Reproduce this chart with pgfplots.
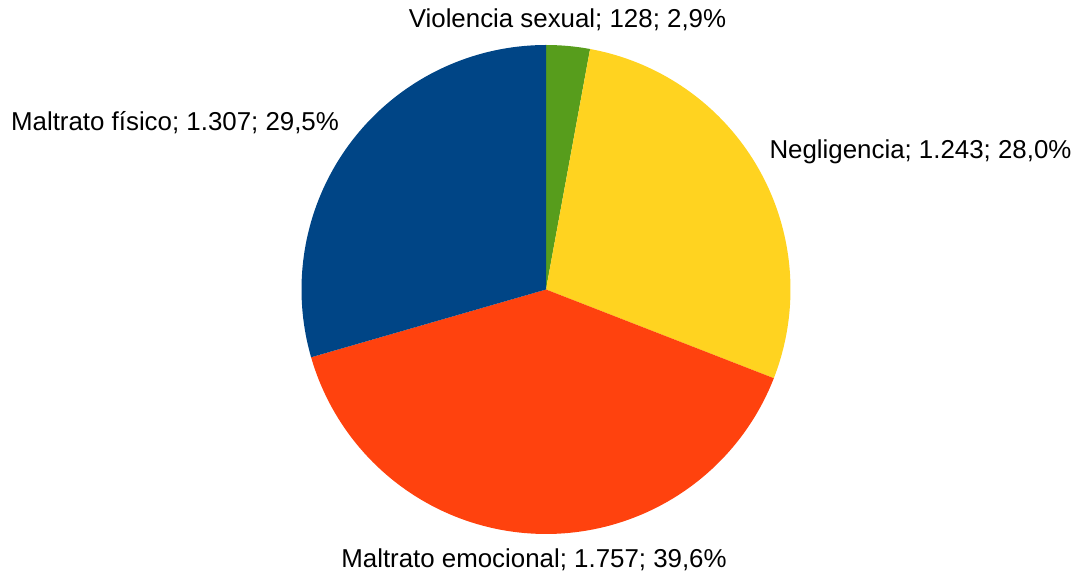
\documentclass[border=0pt]{standalone}
\usepackage{pgfplots}
\pgfplotsset{compat=1.18}
\usepackage{fontspec}
\setmainfont{Liberation Sans}
\definecolor{cBlue}{HTML}{004586}
\definecolor{cRed}{HTML}{FF420E}
\definecolor{cYellow}{HTML}{FFD320}
\definecolor{cGreen}{HTML}{579D1C}
% values: Violencia sexual, Negligencia, Maltrato emocional, Maltrato fisico
\def\vA{128}
\def\vB{1243}
\def\vC{1757}
\def\vD{1307}
\begin{document}
\begin{tikzpicture}
\pgfmathsetmacro{\tot}{\vA+\vB+\vC+\vD}
\pgfmathsetmacro{\aA}{90}
\pgfmathsetmacro{\aB}{\aA-360*(\vA/\tot)}
\pgfmathsetmacro{\aC}{\aB-360*(\vB/\tot)}
\pgfmathsetmacro{\aD}{\aC-360*(\vC/\tot)}
\pgfmathsetmacro{\aE}{-270}
\begin{axis}[
  scale only axis, width=807pt, height=433.5pt,
  xmin=0, xmax=1076, ymin=0, ymax=578,
  hide axis, clip=false,
]
\def\cx{546}
\def\cy{288.5}
\def\R{244.5}
\path (axis cs:0,0) rectangle (axis cs:1076,578);
\addplot[fill=cGreen, draw=none, domain=\aB:\aA, samples=20, variable=\t]
  ({\cx+\R*cos(t)}, {\cy+\R*sin(t)}) -- (axis cs:\cx,\cy) -- cycle;
\addplot[fill=cYellow, draw=none, domain=\aC:\aB, samples=80, variable=\t]
  ({\cx+\R*cos(t)}, {\cy+\R*sin(t)}) -- (axis cs:\cx,\cy) -- cycle;
\addplot[fill=cRed, draw=none, domain=\aD:\aC, samples=100, variable=\t]
  ({\cx+\R*cos(t)}, {\cy+\R*sin(t)}) -- (axis cs:\cx,\cy) -- cycle;
\addplot[fill=cBlue, draw=none, domain=\aE:\aD, samples=80, variable=\t]
  ({\cx+\R*cos(t)}, {\cy+\R*sin(t)}) -- (axis cs:\cx,\cy) -- cycle;
\tikzset{lbl/.style={font=\fontsize{19.4}{23}\selectfont, inner sep=0pt}}
\node[lbl] at (axis cs:567.5,558) {Violencia sexual; 128; 2,9\%};
\node[lbl] at (axis cs:175,455) {Maltrato físico; 1.307; 29,5\%};
\node[lbl] at (axis cs:920.5,426) {Negligencia; 1.243; 28,0\%};
\node[lbl] at (axis cs:534,18) {Maltrato emocional; 1.757; 39,6\%};
\end{axis}
\end{tikzpicture}
\end{document}
